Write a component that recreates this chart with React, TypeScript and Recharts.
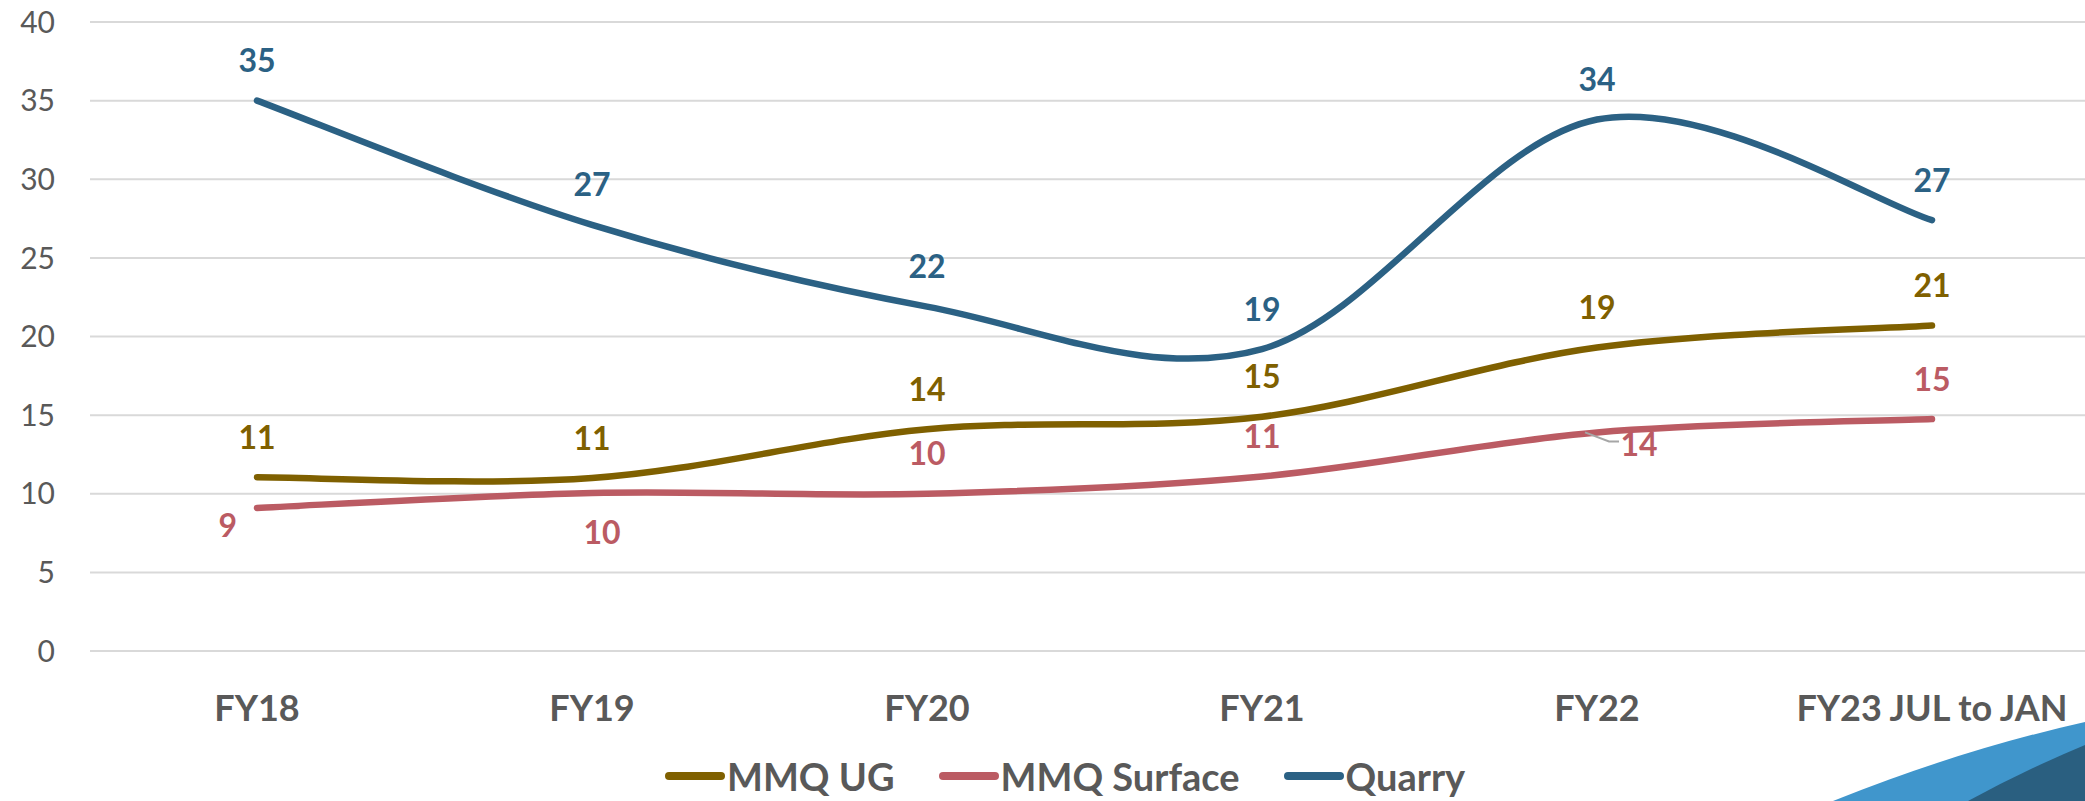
import { CartesianGrid, Legend, LabelList, Line, LineChart, XAxis, YAxis } from "recharts";

const categories = ["FY18", "FY19", "FY20", "FY21", "FY22", "FY23 JUL to JAN"];
const mmqUg = [11.05, 11, 14.1, 14.9, 19.3, 20.7];
const mmqSurface = [9.1, 10.05, 10, 11.1, 13.9, 14.75];
const quarry = [35, 27.1, 21.9, 19.2, 33.8, 27.4];
const yTicks = [0, 5, 10, 15, 20, 25, 30, 35, 40];

const data = categories.map((name, i) => ({
  name,
  ug: mmqUg[i],
  surface: mmqSurface[i],
  quarry: quarry[i],
}));

const COLORS = { ug: "#7F6000", surface: "#BB5B63", quarry: "#2B6184" };
const GREY = "#595959";
const FONT = "Lato, 'Open Sans', sans-serif";

// where each surface label sits relative to its point
const surfacePlacement = ["left", "below", "above", "above", "leader", "above"];

// Excel-style smoothed line (Catmull-Rom through the points)
const excelCurve = (context: any) => {
  let pts: number[][] = [];
  return {
    areaStart() {},
    areaEnd() {},
    lineStart() {
      pts = [];
    },
    point(x: number, y: number) {
      pts.push([+x, +y]);
    },
    lineEnd() {
      if (!pts.length) return;
      context.moveTo(pts[0][0], pts[0][1]);
      for (let i = 0; i < pts.length - 1; i++) {
        const p0 = pts[i - 1] || pts[i];
        const p1 = pts[i];
        const p2 = pts[i + 1];
        const p3 = pts[i + 2] || p2;
        context.bezierCurveTo(
          p1[0] + (p2[0] - p0[0]) / 6,
          p1[1] + (p2[1] - p0[1]) / 6,
          p2[0] - (p3[0] - p1[0]) / 6,
          p2[1] - (p3[1] - p1[1]) / 6,
          p2[0],
          p2[1]
        );
      }
    },
  };
};

const labelText = (x: number, y: number, value: number, color: string, anchor = "middle") => (
  <text
    x={x}
    y={y}
    dy="0.36em"
    textAnchor={anchor}
    fill={color}
    fontFamily={FONT}
    fontWeight={700}
    fontSize={32}
  >
    {Math.round(value)}
  </text>
);

const aboveLabel = (color: string) => (props: any) => {
  const { x, y, value } = props;
  return labelText(x, y - 40, value, color);
};

const surfaceLabel = (props: any) => {
  const { x, y, value, index } = props;
  const place = surfacePlacement[index];
  if (place === "left") return labelText(x - 20, y + 18, value, COLORS.surface, "end");
  if (place === "below") return labelText(x + 10, y + 40, value, COLORS.surface);
  if (place === "leader")
    return (
      <g>
        <polyline
          points={`${x - 12},${y} ${x + 12},${y + 9} ${x + 22},${y + 9}`}
          fill="none"
          stroke="#A6A6A6"
          strokeWidth={2}
        />
        {labelText(x + 42, y + 12, value, COLORS.surface)}
      </g>
    );
  return labelText(x, y - 40, value, COLORS.surface);
};

const legendItems = [
  { label: "MMQ UG", color: COLORS.ug },
  { label: "MMQ Surface", color: COLORS.surface },
  { label: "Quarry", color: COLORS.quarry },
];

const renderLegend = () => (
  <div style={{ display: "flex", alignItems: "center", paddingLeft: 665, height: 50 }}>
    {legendItems.map((item) => (
      <div key={item.label} style={{ display: "flex", alignItems: "center", marginRight: 44 }}>
        <svg width={60} height={12}>
          <line x1={4} y1={6} x2={56} y2={6} stroke={item.color} strokeWidth={8} strokeLinecap="round" />
        </svg>
        <span style={{ fontFamily: FONT, fontWeight: 700, fontSize: 38, color: GREY, marginLeft: 2 }}>
          {item.label}
        </span>
      </div>
    ))}
  </div>
);

export default function App() {
  return (
    <div style={{ position: "absolute", left: 0, top: 0, width: 2085, height: 801, background: "#fff", overflow: "hidden" }}>
      <LineChart width={2085} height={801} data={data} margin={{ top: 22, right: 0, bottom: 0, left: 0 }}>
        <CartesianGrid vertical={false} stroke="#D9D9D9" strokeWidth={2} />
        <XAxis
          dataKey="name"
          axisLine={false}
          tickLine={false}
          height={100}
          padding={{ left: 167, right: 153 }}
          tickMargin={38}
          tick={{ fill: GREY, fontFamily: FONT, fontWeight: 700, fontSize: 36 }}
          interval={0}
        />
        <YAxis
          domain={[0, 40]}
          ticks={yTicks}
          axisLine={false}
          tickLine={false}
          width={90}
          tickSize={0}
          tickMargin={35}
          tick={{ fill: GREY, fontFamily: FONT, fontSize: 30 }}
        />
        <Legend verticalAlign="bottom" content={renderLegend} />
        <Line
          dataKey="ug"
          name="MMQ UG"
          type={excelCurve as any}
          stroke={COLORS.ug}
          strokeWidth={6.5}
          strokeLinecap="round"
          dot={false}
          isAnimationActive={false}
        >
          <LabelList dataKey="ug" content={aboveLabel(COLORS.ug)} />
        </Line>
        <Line
          dataKey="surface"
          name="MMQ Surface"
          type={excelCurve as any}
          stroke={COLORS.surface}
          strokeWidth={6.5}
          strokeLinecap="round"
          dot={false}
          isAnimationActive={false}
        >
          <LabelList dataKey="surface" content={surfaceLabel} />
        </Line>
        <Line
          dataKey="quarry"
          name="Quarry"
          type={excelCurve as any}
          stroke={COLORS.quarry}
          strokeWidth={6.5}
          strokeLinecap="round"
          dot={false}
          isAnimationActive={false}
        >
          <LabelList dataKey="quarry" content={aboveLabel(COLORS.quarry)} />
        </Line>
      </LineChart>
      <svg width={2085} height={801} style={{ position: "absolute", left: 0, top: 0, pointerEvents: "none" }}>
        <path d="M1833,801 Q1960,750 2085,722 L2085,801 Z" fill="#4096CC" />
        <path d="M1968,801 Q2025,770 2085,745 L2085,801 Z" fill="#2A5F80" />
      </svg>
    </div>
  );
}
